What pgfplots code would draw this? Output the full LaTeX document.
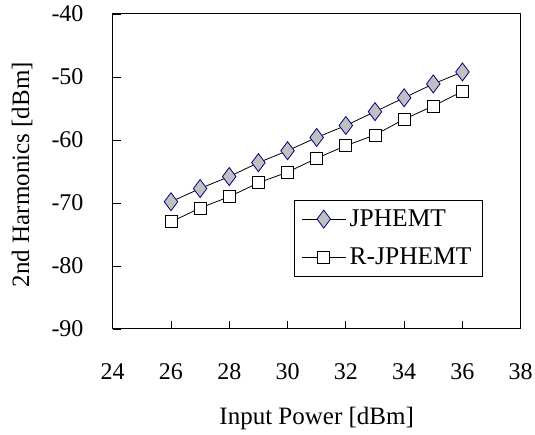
\documentclass[border=0pt]{standalone}
\usepackage{pgfplots}
\pgfplotsset{compat=1.18}
\usepackage{fontspec}
\setmainfont{Liberation Serif}
\definecolor{mkblue}{RGB}{0,0,128}
\definecolor{mkgray}{RGB}{192,192,192}
\begin{document}
\begin{tikzpicture}
\useasboundingbox (-112.7pt,-106pt) rectangle (422.3pt,315pt+14pt);
\begin{axis}[
  at={(0,0)}, anchor=south west,
  scale only axis, width=408pt, height=315pt,
  xmin=24, xmax=38, ymin=-90, ymax=-40,
  xtick={24,26,...,38}, ytick={-90,-80,...,-40},
  tick align=inside, tick pos=left,
  major tick length=8pt,
  xtick style={black, line width=0.8pt}, ytick style={black, line width=0.8pt},
  axis line style={line width=1pt},
  /pgf/number format/assume math mode=true,
  ticklabel style={font=\fontsize{24}{27}\selectfont, inner sep=0pt},
  xticklabel style={anchor=center, yshift=-43pt},
  yticklabel style={anchor=east, xshift=-29pt},
  xlabel={Input Power [dBm]}, ylabel={2nd Harmonics [dBm]},
  label style={font=\fontsize{25}{28}\selectfont},
  xlabel style={at={(axis description cs:0.5,-0.283)}, anchor=center},
  ylabel style={at={(axis description cs:-0.222,0.49)}, anchor=center},
  legend style={at={(294pt-112.7pt,329pt-199.7pt)}, anchor=north west, draw=black, line width=0.8pt,
    font=\fontsize{25.5}{28}\selectfont, inner xsep=7pt, inner ysep=0pt,
    nodes={inner sep=3.5pt, minimum height=38pt}},
  legend cell align=left,
  legend image code/.code={\draw[mark repeat=2, mark phase=2, #1] plot coordinates {(0pt,0pt) (22pt,0pt) (44pt,0pt)};},
  clip=false,
]
\addplot[black, line width=0.8pt, mark=diamond*, mark size=9pt, mark options={fill=mkgray, draw=mkblue, line width=0.8pt}]
coordinates {(26,-69.8)(27,-67.7)(28,-65.8)(29,-63.6)(30,-61.7)(31,-59.6)(32,-57.7)(33,-55.5)(34,-53.3)(35,-51.1)(36,-49.2)};
\addlegendentry{JPHEMT}
\addplot[black, line width=0.8pt, mark=square*, mark size=6pt, mark options={fill=white, draw=black, line width=0.8pt}]
coordinates {(26,-73.0)(27,-70.8)(28,-69.0)(29,-66.8)(30,-65.1)(31,-62.9)(32,-60.9)(33,-59.2)(34,-56.7)(35,-54.6)(36,-52.3)};
\addlegendentry{R-JPHEMT}
\end{axis}
\end{tikzpicture}
\end{document}
